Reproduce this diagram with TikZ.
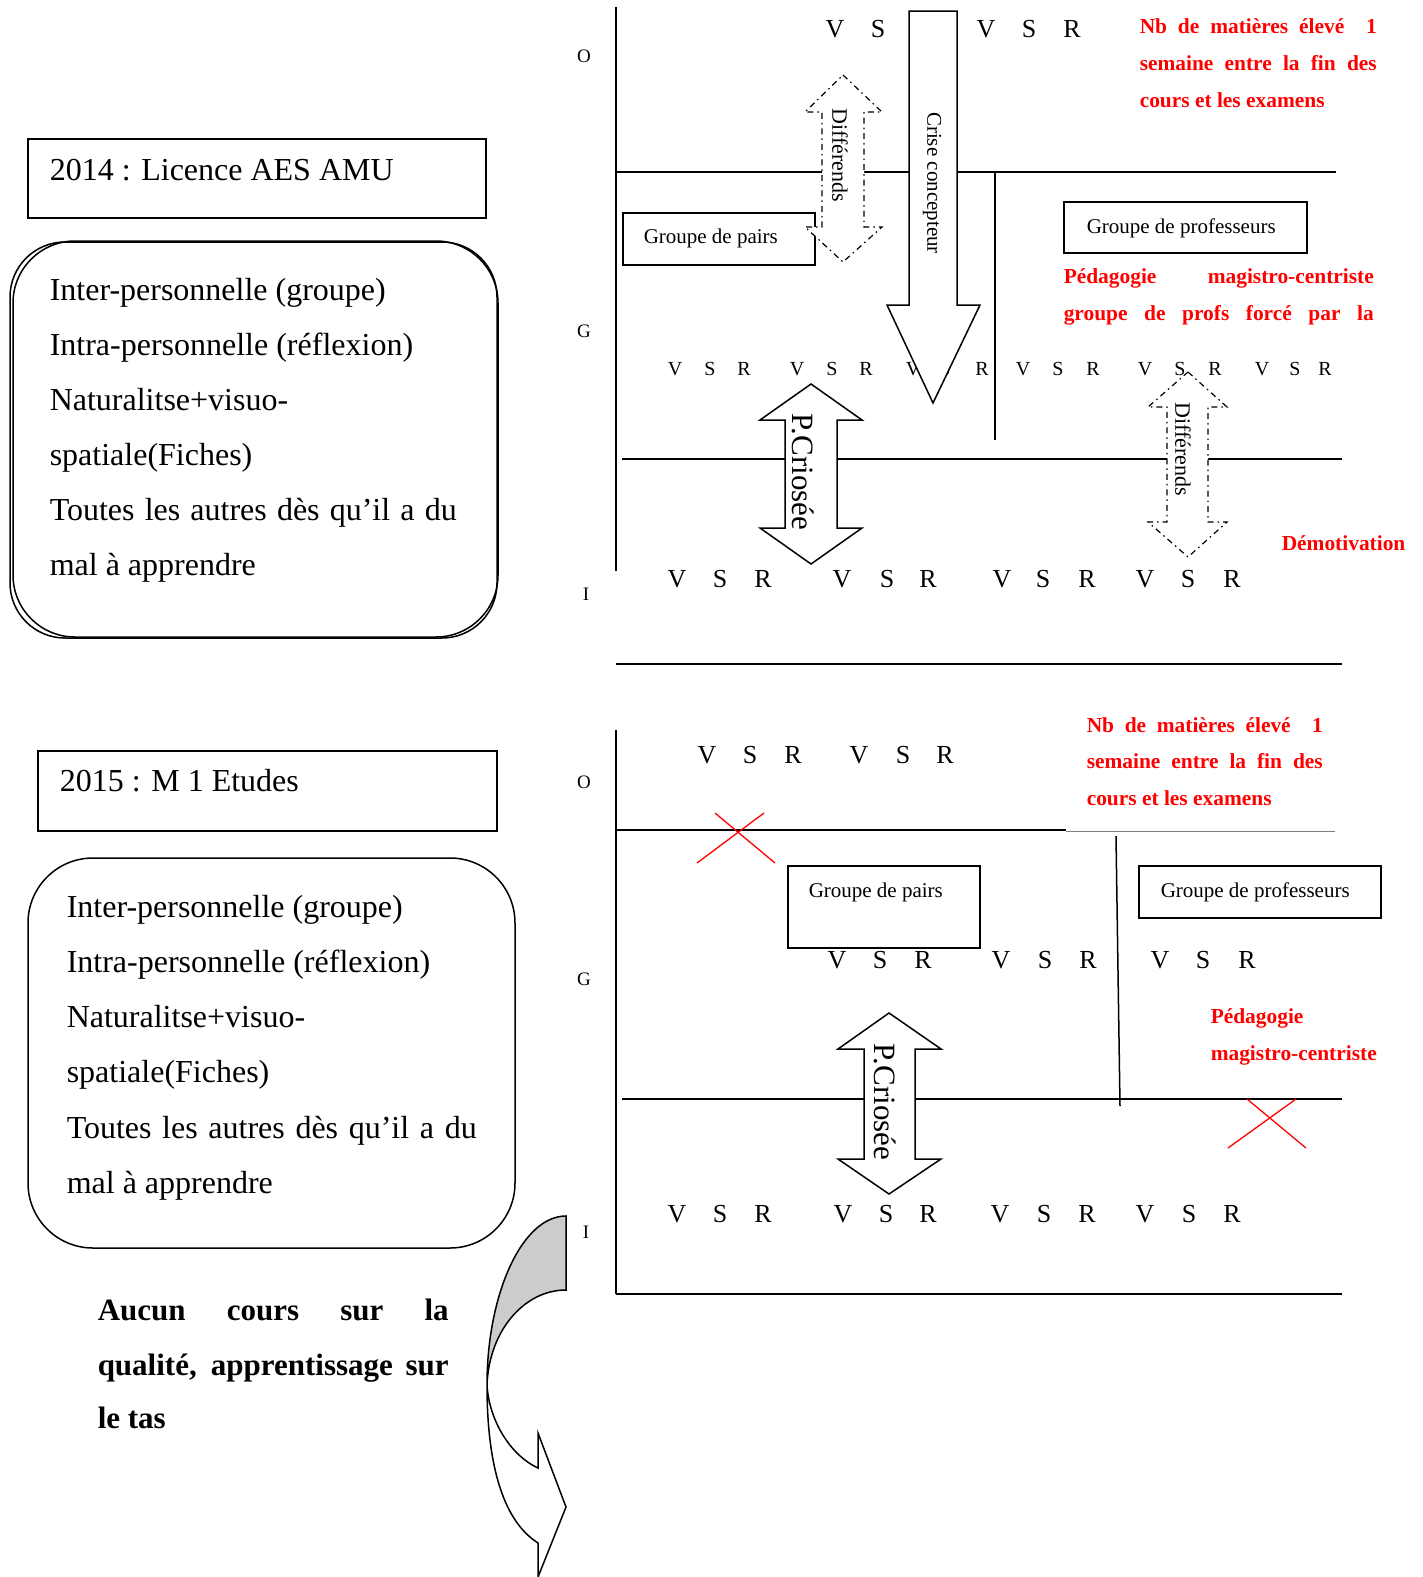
\documentclass[tikz,border=0pt]{standalone}
\usepackage{fontspec}
\setmainfont{Liberation Serif}

\begin{document}
\begin{tikzpicture}[x=1pt, y=-1pt, line width=1.5pt,
    lettre/.style={anchor=base, inner sep=0pt, font=\fontsize{26}{30}\selectfont},
    petitelettre/.style={anchor=base, inner sep=0pt, font=\fontsize{20}{24}\selectfont},
    axe/.style={anchor=base, inner sep=0pt, font=\fontsize{19}{22}\selectfont},
    boxtxt/.style={anchor=base west, inner sep=0pt, font=\fontsize{32}{36}\selectfont},
    grastxt/.style={anchor=base west, inner sep=0pt, font=\bfseries\fontsize{31}{36}\selectfont},
    rouge/.style={anchor=base west, inner sep=0pt, text=red, font=\bfseries\fontsize{21.4}{26}\selectfont},
    grp/.style={anchor=base west, inner sep=0pt, font=\fontsize{21}{24}\selectfont},
    cadre/.style={draw, inner sep=0pt, outer sep=0pt, anchor=north west},
    vert/.style={rotate=-90, inner sep=0pt},
    tiret/.style={dash pattern=on 6pt off 4pt on 1.5pt off 4pt, line width=1.2pt},
    croix/.style={red, line width=1.3pt}]

    \useasboundingbox (0,0) rectangle (1423,1577);

    % 2014 : left part
    \node[cadre, minimum width=458pt, minimum height=79pt] (an14) at (28,139) {};
    \node[boxtxt] (titre14) at (49,180) {2014 : Licence AES AMU};
    \draw[rounded corners=55pt] (10,242) rectangle (497,638);
    \draw[rounded corners=62pt] (13,241) rectangle (498,637);
    \foreach \txt [count=\i from 0] in {Inter-personnelle (groupe), Intra-personnelle (réflexion),
        Naturalitse+visuo-, spatiale(Fiches), {\makebox[407pt][s]{Toutes les autres dès qu’il a du}},
        mal à apprendre}
        \node[boxtxt] (ia\i) at (49, 300+55*\i) {\txt};

    % 2014 : axes and levels
    \draw (616,7) -- (616,571);
    \draw (616,172) -- (1336,172);
    \draw (622,459) -- (1342,459);
    \draw (616,664) -- (1342,664);
    \draw (995,172) -- (995,440);
    \node[axe] (oa) at (584,62) {O};
    \node[axe] (ga) at (584,337) {G};
    \node[axe] (ia) at (586,600) {I};

    % boxes
    \node[cadre, minimum width=192pt, minimum height=52pt] (pairsa) at (623,213) {};
    \node[grp] (tpairsa) at (643,243) {Groupe de pairs};
    \node[cadre, minimum width=243pt, minimum height=51pt] (profsa) at (1064,202) {};
    \node[grp] (tprofsa) at (1086,233) {Groupe de professeurs};

    % V S R
    \foreach \x/\l in {835/V, 878/S, 986/V, 1029/S, 1072/R}
        \node[lettre] (ra\x) at (\x,37) {\l};
    \foreach \x/\l in {675/V, 710/S, 744/R, 797/V, 832/S, 866/R, 913/V, 945/S, 982/R,
        1023/V, 1058/S, 1093/R, 1145/V, 1180/S, 1215/R, 1262/V, 1295/S, 1325/R}
        \node[petitelettre] (rb\x) at (\x,375) {\l};
    \foreach \x/\l in {677/V, 720/S, 763/R, 842/V, 887/S, 928/R, 1002/V, 1043/S, 1087/R,
        1145/V, 1188/S, 1232/R}
        \node[lettre] (rc\x) at (\x,587) {\l};

    % arrows
    \draw[tiret, fill=white] (843,75) -- (882,112) -- (864,112) -- (864,227) -- (882,227)
        -- (843,262) -- (805,227) -- (822,227) -- (822,112) -- (805,112) -- cycle;
    \node[vert, font=\fontsize{22}{26}\selectfont] (diffa) at (840,155) {Différends};
    \draw[fill=white] (909,11) -- (957,11) -- (957,305) -- (980,305) -- (933,403)
        -- (887,305) -- (909,305) -- cycle;
    \node[vert, font=\fontsize{21}{24}\selectfont] (crise) at (932,183) {Crise concepteur};
    \draw[fill=white] (811,384) -- (862,420) -- (837,420) -- (837,528) -- (862,528)
        -- (811,564) -- (760,528) -- (785,528) -- (785,420) -- (760,420) -- cycle;
    \node[vert, font=\fontsize{31}{36}\selectfont] (crioa) at (803,472) {P.Criosée};
    \draw[tiret, fill=white] (1188,372) -- (1227,407) -- (1208,407) -- (1208,522) -- (1227,522)
        -- (1188,557) -- (1148,522) -- (1167,522) -- (1167,407) -- (1148,407) -- cycle;
    \node[vert, font=\fontsize{22}{26}\selectfont] (diffb) at (1183,449) {Différends};

    % red notes
    \node[rouge] (nba) at (1139,33) {\makebox[237pt][s]{Nb de matières élevé~~1}};
    \node[rouge] (sema) at (1139,70) {\makebox[237pt][s]{semaine entre la fin des}};
    \node[rouge] (coursa) at (1139,107) {cours et les examens};
    \node[rouge] (peda) at (1063,283) {\makebox[310pt][s]{Pédagogie magistro-centriste}};
    \node[rouge] (force) at (1063,320) {\makebox[310pt][s]{groupe de profs forcé par la}};
    \node[rouge] (demo) at (1281,550) {Démotivation};

    % 2015 : left part
    \node[cadre, minimum width=459pt, minimum height=80pt] (an15) at (38,751) {};
    \node[boxtxt] (titre15) at (59,791) {2015 : M 1 Etudes};
    \draw[rounded corners=65pt] (28,858) rectangle (515,1248);
    \foreach \txt [count=\i from 0] in {Inter-personnelle (groupe), Intra-personnelle (réflexion),
        Naturalitse+visuo-, spatiale(Fiches), {\makebox[410pt][s]{Toutes les autres dès qu’il a du}},
        mal à apprendre}
        \node[boxtxt] (ib\i) at (66, 917+55.3*\i) {\txt};
    \node[grastxt] (aucun) at (97,1320) {\makebox[351pt][s]{Aucun cours sur la}};
    \node[grastxt] (qualite) at (97,1375) {\makebox[351pt][s]{qualité, apprentissage sur}};
    \node[grastxt] (tas) at (97,1428) {le tas};

    % curved arrow
    \draw[fill=black!20] (566,1290) -- (566,1216) .. controls (522,1216) and (487,1294) .. (487,1385)
        .. controls (489,1331) and (524,1290) .. (566,1290) -- cycle;
    \draw[fill=white] (487,1385) .. controls (487,1470) and (505,1522) .. (538,1543) -- (538,1577)
        -- (566,1507) -- (538,1433) -- (538,1468) .. controls (510,1455) and (489,1420) .. (487,1385) -- cycle;

    % 2015 : axes and levels
    \draw (616,730) -- (616,1294);
    \draw (616,830) -- (1066,830);
    \draw[gray, line width=0.8pt] (1066,831) -- (1335,831);
    \draw (1116,836) -- (1120,1106);
    \draw (622,1099) -- (1342,1099);
    \draw (616,1294) -- (1342,1294);
    \node[axe] (ob) at (584,788) {O};
    \node[axe] (gb) at (584,985) {G};
    \node[axe] (ib) at (586,1238) {I};
    \draw[croix] (715,813) -- (775,863);
    \draw[croix] (697,863) -- (764,813);
    \draw[croix] (1247,1099) -- (1306,1148);
    \draw[croix] (1228,1148) -- (1296,1099);

    % boxes
    \node[cadre, minimum width=192pt, minimum height=82pt] (pairsb) at (788,866) {};
    \node[grp] (tpairsb) at (808,897) {Groupe de pairs};
    \node[cadre, minimum width=242pt, minimum height=52pt] (profsb) at (1139,866) {};
    \node[grp] (tprofsb) at (1160,897) {Groupe de professeurs};

    % V S R
    \foreach \x/\l in {707/V, 750/S, 793/R, 859/V, 903/S, 945/R}
        \node[lettre] (rd\x) at (\x,763) {\l};
    \foreach \x/\l in {837/V, 880/S, 923/R, 1001/V, 1045/S, 1088/R, 1160/V, 1203/S, 1247/R}
        \node[lettre] (re\x) at (\x,968) {\l};
    \foreach \x/\l in {677/V, 720/S, 763/R, 843/V, 886/S, 928/R, 1000/V, 1044/S, 1087/R,
        1145/V, 1189/S, 1232/R}
        \node[lettre] (rf\x) at (\x,1222) {\l};

    % arrow
    \draw[fill=white] (889,1013) -- (941,1049) -- (915,1049) -- (915,1159) -- (941,1159)
        -- (889,1194) -- (838,1159) -- (864,1159) -- (864,1049) -- (838,1049) -- cycle;
    \node[vert, font=\fontsize{31}{36}\selectfont] (criob) at (885,1102) {P.Criosée};

    % red notes
    \node[rouge] (nbb) at (1086,732) {\makebox[236pt][s]{Nb de matières élevé~~1}};
    \node[rouge] (semb) at (1086,768) {\makebox[236pt][s]{semaine entre la fin des}};
    \node[rouge] (coursb) at (1086,805) {cours et les examens};
    \node[rouge] (pedb) at (1210,1023) {Pédagogie};
    \node[rouge] (magb) at (1210,1060) {magistro-centriste};
\end{tikzpicture}
\end{document}
